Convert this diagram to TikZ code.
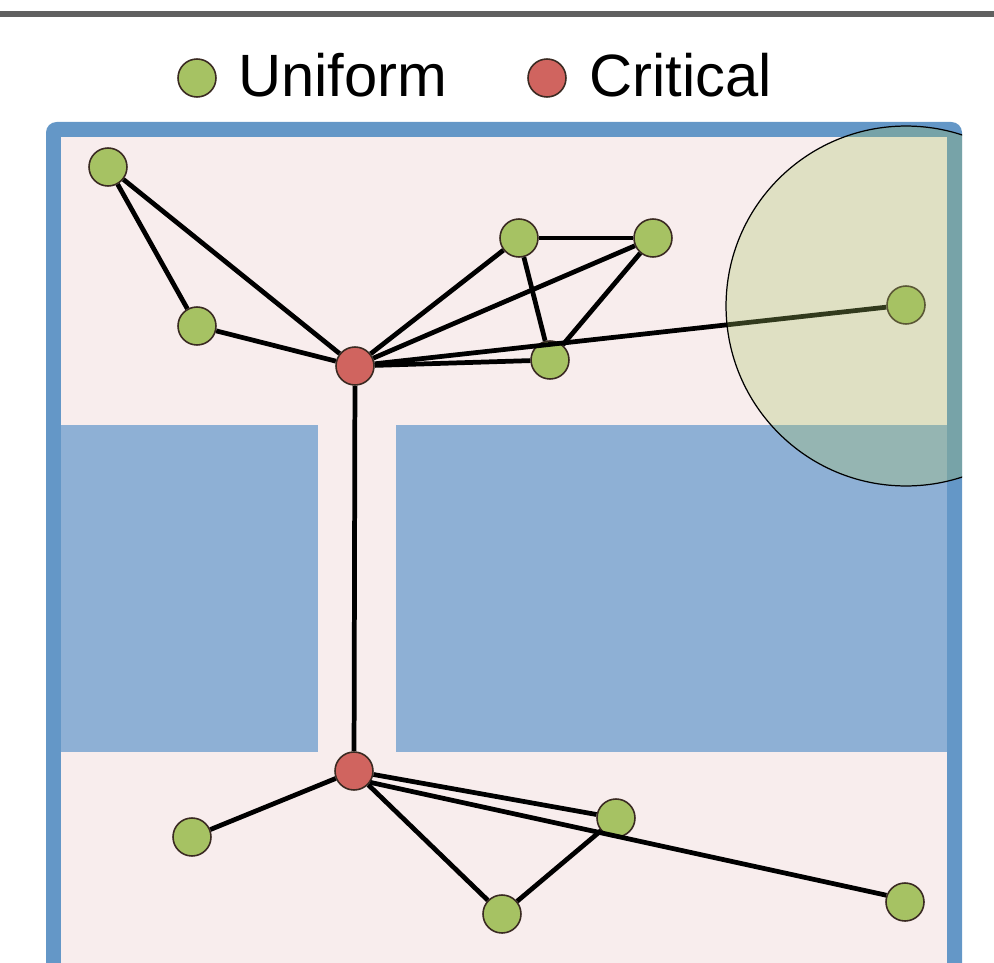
\documentclass[tikz,border=0pt]{standalone}
\usepackage{fontspec}
\setmainfont{Liberation Sans}
\usepackage{tikz}
\usetikzlibrary{positioning}
\definecolor{ugreen}{HTML}{A6C263}
\definecolor{cred}{HTML}{D0645F}
\definecolor{fblue}{HTML}{6497C7}
\definecolor{oblue}{HTML}{8EB0D5}
\definecolor{fpink}{HTML}{F8EDED}
\definecolor{rulegray}{HTML}{606060}
\definecolor{nodeline}{HTML}{3A2A22}

\tikzset{
  uniform/.style={circle, fill=ugreen, draw=nodeline, line width=0.9pt, minimum size=0.76cm, inner sep=0pt},
  critical/.style={uniform, fill=cred},
  link/.style={draw=black, line width=2.7pt},
  legendtext/.style={font=\fontsize{34}{38}\selectfont, anchor=base west, inner sep=0pt},
}

\begin{document}
\begin{tikzpicture}[x=0.02cm, y=-0.02cm]
\useasboundingbox (0,0) rectangle (994,963);
\clip (0,0) rectangle (994,963);
\fill[rulegray] (0,11.5) rectangle (994,17);
% legend
\node[uniform] (lguni) at (197,78) {};
\node[legendtext] (lgunitext) at (238,97) {Uniform};
\node[critical] (lgcrit) at (547,78) {};
\node[legendtext] (lgcrittext) at (589,97) {Critical};
% frame and obstacles
\fill[fblue, rounded corners=6pt] (46,122) rectangle (962,1010);
\fill[fpink] (61,137) rectangle (947,1010);
\fill[oblue] (61,425) rectangle (318,752);
\fill[oblue] (396,425) rectangle (947,752);
% graph
\node[critical] (c1) at (355,366) {};
\node[critical] (c2) at (354,771) {};
\node[uniform] (u1) at (108,167) {};
\node[uniform] (u2) at (197,326) {};
\node[uniform] (u3) at (519,238) {};
\node[uniform] (u4) at (653,238) {};
\node[uniform] (u5) at (550,360) {};
\node[uniform] (u6) at (906,305) {};
\node[uniform] (u7) at (192,837) {};
\node[uniform] (u8) at (616,818) {};
\node[uniform] (u9) at (502,914) {};
\node[uniform] (u10) at (905,902) {};
\foreach \a/\b in {u1/u2, u1/c1, u2/c1, c1/u3, c1/u4, c1/u5, c1/u6, u3/u4, u3/u5, u4/u5,
                   c1/c2, c2/u7, c2/u8, c2/u9, u9/u8}
  \draw[link] (\a) -- (\b);
\draw[link] (c2.-35) -- (u10.160);
% sensing range
\begin{scope}
\clip[rounded corners=6pt] (46,122) rectangle (962,1010);
\fill[ugreen, fill opacity=0.3, draw=black, line width=0.7pt] (906,306) circle (3.6cm);
\end{scope}
\end{tikzpicture}
\end{document}
